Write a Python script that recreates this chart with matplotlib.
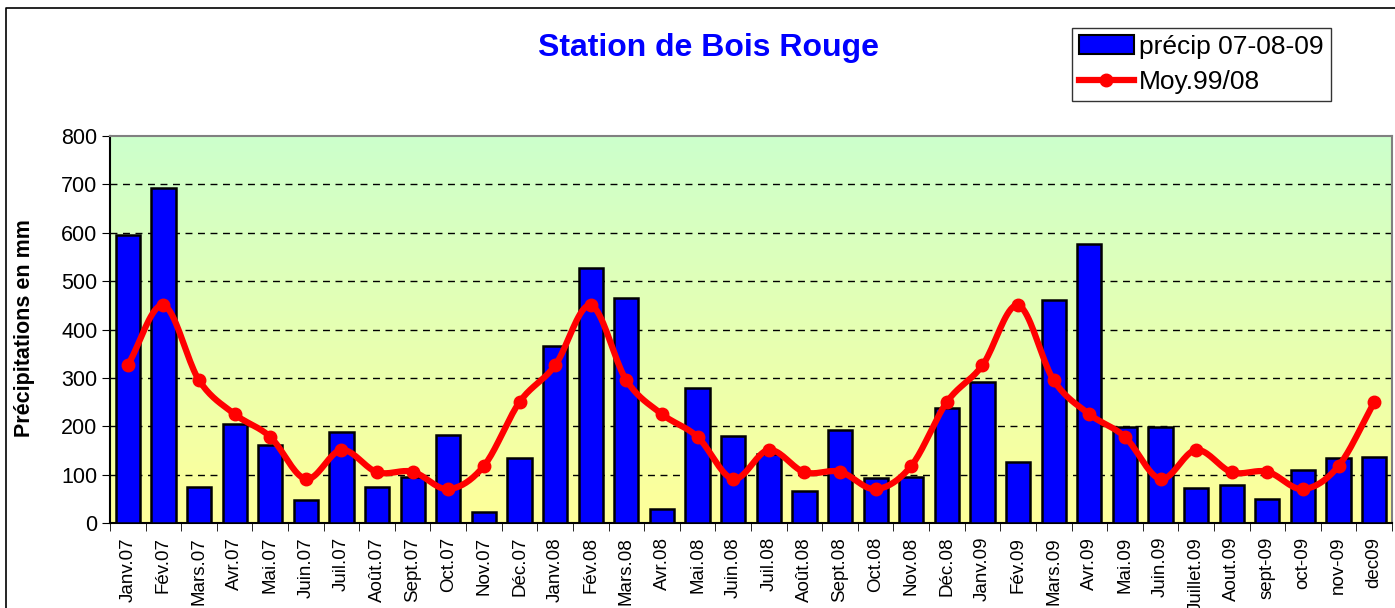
import numpy as np
import matplotlib.pyplot as plt
from matplotlib.patches import Rectangle
from matplotlib.lines import Line2D

plt.rcParams['font.family'] = ['Liberation Sans', 'DejaVu Sans']

months = ['Janv.07', 'Fév.07', 'Mars.07', 'Avr.07', 'Mai.07', 'Juin.07', 'Juil.07', 'Août.07',
          'Sept.07', 'Oct.07', 'Nov.07', 'Déc.07',
          'Janv.08', 'Fév.08', 'Mars.08', 'Avr.08', 'Mai.08', 'Juin.08', 'Juil.08', 'Août.08',
          'Sept.08', 'Oct.08', 'Nov.08', 'Déc.08',
          'Janv.09', 'Fév.09', 'Mars.09', 'Avr.09', 'Mai.09', 'Juin.09', 'Juillet.09', 'Aout.09',
          'sept-09', 'oct-09', 'nov-09', 'dec09']

precip = [595, 692, 74, 205, 161, 48, 188, 74, 95, 182, 23, 134,
          366, 527, 465, 29, 279, 180, 142, 66, 192, 93, 95, 237,
          292, 127, 461, 576, 199, 199, 72, 78, 50, 110, 134, 137]

moyenne = [326, 450, 295, 225, 178, 91, 151, 105, 106, 70, 118, 250,
           326, 450, 295, 225, 178, 91, 151, 105, 106, 70, 118, 250,
           326, 450, 295, 225, 178, 91, 151, 105, 106, 70, 118, 250]


def smooth_curve(y, steps=20):
    # catmull-rom like Excel's smoothed line
    y = np.asarray(y, dtype=float)
    n = len(y)
    p = np.concatenate([[2 * y[0] - y[1]], y, [2 * y[-1] - y[-2]]])
    xs, ys = [], []
    for i in range(n - 1):
        p0, p1, p2, p3 = p[i], p[i + 1], p[i + 2], p[i + 3]
        t = np.linspace(0, 1, steps, endpoint=False)
        seg = 0.5 * ((2 * p1) + (-p0 + p2) * t + (2 * p0 - 5 * p1 + 4 * p2 - p3) * t ** 2
                     + (-p0 + 3 * p1 - 3 * p2 + p3) * t ** 3)
        xs.append(i + t)
        ys.append(seg)
    xs.append([n - 1])
    ys.append([y[-1]])
    return np.concatenate(xs), np.concatenate(ys)


fig = plt.figure(figsize=(13.95, 6.08), dpi=100)
ax = fig.add_axes([110 / 1395, 1 - 523 / 608, 1282 / 1395, 387 / 608])

x = np.arange(len(months))

# gradient background
grad = np.linspace(0, 1, 256).reshape(-1, 1)
top = np.array([0.80, 1.0, 0.80])
bottom = np.array([1.0, 1.0, 0.60])
img = top * (1 - grad[:, :, None]) + bottom * grad[:, :, None]
ax.imshow(img, extent=[0, 1, 0, 1], transform=ax.transAxes, aspect='auto', zorder=0)

ax.bar(x, precip, width=0.68, color='#0000FF', edgecolor='black', linewidth=1.8, zorder=3)

sx, sy = smooth_curve(moyenne)
ax.plot(sx, sy, color='#FF0000', linewidth=4.5, zorder=4, solid_capstyle='round')
ax.plot(x, moyenne, 'o', color='#FF0000', markersize=9, zorder=5)

ax.set_xlim(-0.5, len(months) - 0.5)
ax.set_ylim(0, 800)
ax.set_yticks(range(0, 801, 100))
ax.tick_params(axis='y', labelsize=15.5, length=6, direction='out', pad=3)
for yv in range(100, 800, 100):
    ax.axhline(yv, color='black', linestyle=(0, (5, 4)), linewidth=1.0, zorder=1)

ax.set_xticks(x)
ax.set_xticklabels(months, rotation=90, fontsize=13.5)
ax.tick_params(axis='x', length=0, pad=10)
ax.set_xticks(np.arange(-0.5, len(months), 1), minor=True)
ax.tick_params(axis='x', which='minor', length=6, direction='out')

ax.spines['left'].set_color('black')
ax.spines['bottom'].set_color('black')
ax.spines['top'].set_color('#808080')
ax.spines['right'].set_color('#808080')
for s in ax.spines.values():
    s.set_linewidth(1.5)

# y axis title
fig.text(25 / 1395, 1 - 328 / 608, 'Précipitations en mm', fontsize=15.5, fontweight='bold',
         rotation=90, ha='center', va='center')

fig.text(708 / 1395, 1 - 48 / 608, 'Station de Bois Rouge', color='#0000FF',
         fontsize=23, fontweight='bold', ha='center', va='center')

handles = [Rectangle((0, 0), 1, 1, facecolor='#0000FF', edgecolor='black', linewidth=1.5),
           Line2D([0], [0], color='#FF0000', linewidth=4.5, marker='o', markersize=9)]
leg = fig.legend(handles, ['précip 07-08-09', 'Moy.99/08'], loc='upper left',
                 bbox_to_anchor=(1072 / 1395, 1 - 28 / 608), fontsize=19, frameon=True,
                 fancybox=False, edgecolor='black', handlelength=2.1, handletextpad=0.2,
                 borderpad=0.25, labelspacing=0.45, borderaxespad=0)
leg.get_frame().set_linewidth(1.0)

# outer chart border (only top and left are visible)
fig.add_artist(Line2D([6 / 1395, 6 / 1395, 1.0], [0, 1 - 8 / 608, 1 - 8 / 608],
                      transform=fig.transFigure, color='black', linewidth=1.2))

fig.savefig('out.png', dpi=100)
